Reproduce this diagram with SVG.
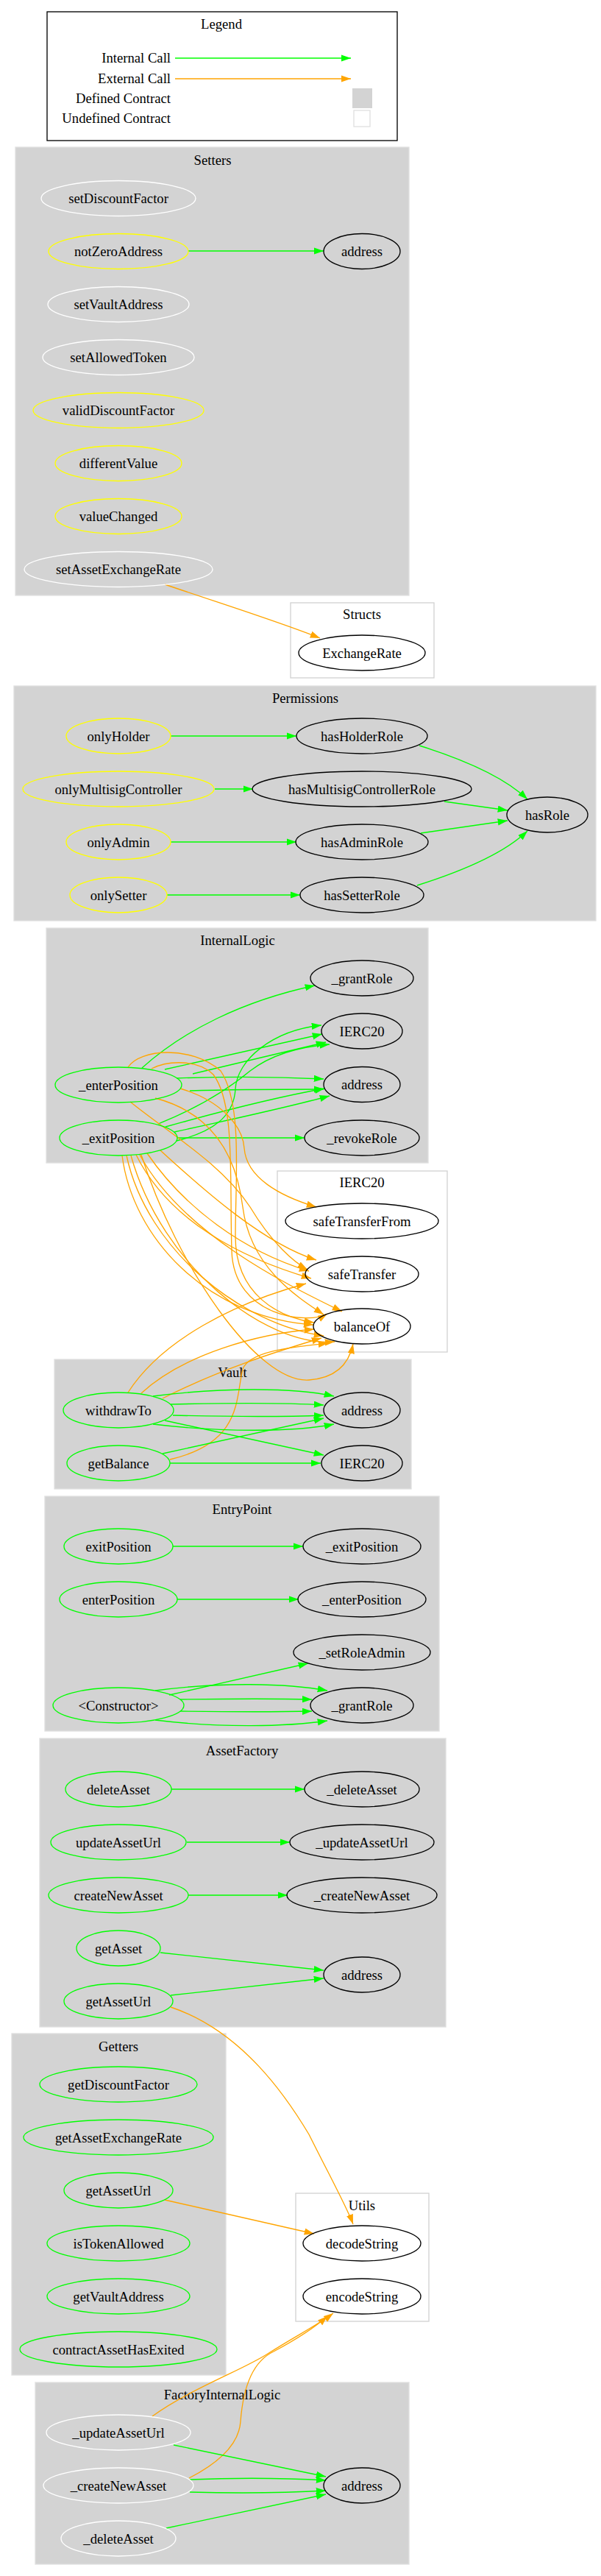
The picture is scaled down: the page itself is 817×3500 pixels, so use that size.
<svg xmlns="http://www.w3.org/2000/svg" width="817" height="3500" viewBox="0 0 817 3500">
<style>
text{font-family:"Liberation Serif","Times New Roman",serif;font-size:18.67px;fill:#000;text-anchor:middle}
.cl{fill:#d3d3d3;stroke:#e0e0e0;stroke-width:1.33}
.cw{fill:#fff;stroke:#d3d3d3;stroke-width:1.33}
ellipse{fill:none;stroke-width:1.33}
.k{stroke:#000}.w{stroke:#fff}.y{stroke:#ffff00}.g{stroke:#00ff00}
.eg{fill:none;stroke:#00ff00;stroke-width:1.33;marker-end:url(#ag)}
.eo{fill:none;stroke:#ffa500;stroke-width:1.33;marker-end:url(#ao)}
</style>
<defs>
<marker id="ag" markerUnits="userSpaceOnUse" markerWidth="14" markerHeight="10" refX="13.3" refY="4.67" orient="auto"><path d="M0,0L13.3,4.67L0,9.33z" fill="#00ff00"/></marker>
<marker id="ao" markerUnits="userSpaceOnUse" markerWidth="14" markerHeight="10" refX="13.3" refY="4.67" orient="auto"><path d="M0,0L13.3,4.67L0,9.33z" fill="#ffa500"/></marker>
</defs>
<rect width="817" height="3500" fill="#fff"/>

<g id="legend">
<rect x="64" y="16" width="476" height="175" fill="#fff" stroke="#000" stroke-width="1.33"/>
<text x="301" y="39">Legend</text>
<text x="232" y="85" style="text-anchor:end">Internal Call</text>
<text x="232" y="113" style="text-anchor:end">External Call</text>
<text x="232" y="140" style="text-anchor:end">Defined Contract</text>
<text x="232" y="167" style="text-anchor:end">Undefined Contract</text>
<path class="eg" d="M238,79L477,79"/>
<path class="eo" d="M238,107L477,107"/>
<rect x="479" y="120" width="27" height="27" fill="#d3d3d3"/>
<rect x="481" y="150" width="22" height="22" fill="#fff" stroke="#e0e0e0" stroke-width="1.33"/>
</g>

<g id="clusters">
<g id="cluster_Setters"><rect class="cl" x="21" y="200" width="535" height="609"/><text x="289" y="224">Setters</text></g>
<g id="cluster_Structs"><rect class="cw" x="395" y="819" width="195" height="102"/><text x="492" y="841">Structs</text></g>
<g id="cluster_Permissions"><rect class="cl" x="19" y="932" width="791" height="319"/><text x="415" y="955">Permissions</text></g>
<g id="cluster_InternalLogic"><rect class="cl" x="63" y="1261" width="519" height="319"/><text x="323" y="1284">InternalLogic</text></g>
<g id="cluster_IERC20"><rect class="cw" x="377" y="1591" width="231" height="246"/><text x="492" y="1613">IERC20</text></g>
<g id="cluster_Vault"><rect class="cl" x="74" y="1847" width="485" height="176"/><text x="316" y="1871">Vault</text></g>
<g id="cluster_EntryPoint"><rect class="cl" x="61" y="2033" width="536" height="319"/><text x="329" y="2057">EntryPoint</text></g>
<g id="cluster_AssetFactory"><rect class="cl" x="54" y="2362" width="552" height="392"/><text x="329" y="2385">AssetFactory</text></g>
<g id="cluster_Getters"><rect class="cl" x="16" y="2763" width="291" height="464"/><text x="161" y="2787">Getters</text></g>
<g id="cluster_Utils"><rect class="cw" x="402" y="2980" width="181" height="174"/><text x="492" y="3003">Utils</text></g>
<g id="cluster_FactoryInternalLogic"><rect class="cl" x="48" y="3237" width="508" height="247"/><text x="302" y="3260">FactoryInternalLogic</text></g>
</g>

<g id="connectors">
<path class="eg" d="M256,341L440,341"/>
<path class="eo" d="M224,794C300,820 380,845 435,867"/>
<path class="eg" d="M232,1000L403,1000"/>
<path class="eg" d="M292,1072L344,1072"/>
<path class="eg" d="M232,1144L403,1144"/>
<path class="eg" d="M227,1216L408,1216"/>
<path class="eg" d="M570,1013C640,1035 690,1060 717,1086"/>
<path class="eg" d="M604,1089L690,1101"/>
<path class="eg" d="M572,1132L690,1115"/>
<path class="eg" d="M567,1203C640,1180 690,1155 717,1129"/>

<path class="eg" d="M193,1451C250,1400 330,1360 428,1339"/>
<path class="eg" d="M224,1453L438,1405"/>
<path class="eg" d="M262,1459L443,1416"/>
<path class="eg" d="M240,1550C300,1535 318,1510 320,1480C322,1440 370,1400 437,1393"/>
<path class="eg" d="M215,1527C270,1505 310,1480 340,1455C370,1432 410,1422 448,1419"/>
<path class="eg" d="M240,1465C320,1462 380,1463 440,1466"/>
<path class="eg" d="M258,1482C320,1480 380,1480 440,1480"/>
<path class="eg" d="M225,1531C300,1510 380,1490 441,1479"/>
<path class="eg" d="M237,1538C320,1520 400,1502 448,1489"/>
<path class="eg" d="M241,1546L414,1546"/>

<path class="eo" d="M245,1479C300,1495 330,1530 332,1560C335,1600 380,1625 430,1640"/>
<path class="eo" d="M177,1497C230,1540 300,1580 340,1640C370,1690 400,1715 418,1725"/>
<path class="eo" d="M174,1450C190,1425 260,1420 300,1455C330,1500 320,1600 320,1680C320,1760 380,1790 427,1797"/>
<path class="eo" d="M206,1452C230,1440 270,1440 290,1460C320,1500 312,1600 315,1700C318,1790 420,1800 445,1785"/>
<path class="eo" d="M211,1492C280,1510 320,1560 330,1640C340,1720 400,1760 440,1786"/>
<path class="eo" d="M200,1567C250,1640 330,1700 420,1727"/>
<path class="eo" d="M185,1569C230,1660 330,1710 423,1737"/>
<path class="eo" d="M218,1563C280,1620 360,1690 430,1712"/>
<path class="eo" d="M166,1570C180,1680 280,1790 426,1800"/>
<path class="eo" d="M172,1570C200,1700 330,1800 440,1815"/>
<path class="eo" d="M178,1570C220,1720 360,1830 455,1823"/>
<path class="eo" d="M192,1569C240,1720 350,1880 420,1875C460,1872 475,1850 480,1826"/>
<path class="eo" d="M190,1569C250,1680 400,1750 465,1782"/>
<path class="eo" d="M174,1892C220,1820 320,1770 416,1744"/>
<path class="eo" d="M192,1893C250,1840 350,1812 427,1806"/>
<path class="eo" d="M221,1900C300,1860 380,1835 437,1818"/>
<path class="eo" d="M231,1983C330,1960 320,1900 330,1860C340,1835 400,1830 446,1825"/>

<path class="eg" d="M208,1897C300,1885 400,1885 454,1897"/>
<path class="eg" d="M232,1908C320,1906 390,1906 440,1909"/>
<path class="eg" d="M235,1923C320,1925 390,1925 440,1923"/>
<path class="eg" d="M208,1935C300,1946 400,1946 454,1935"/>
<path class="eg" d="M224,1930L440,1977"/>
<path class="eg" d="M221,1975L440,1927"/>
<path class="eg" d="M231,1988L436,1988"/>

<path class="eg" d="M235,2101L412,2101"/>
<path class="eg" d="M241,2173L406,2173"/>
<path class="eg" d="M230,2303L419,2260"/>
<path class="eg" d="M211,2297C300,2285 390,2287 445,2297"/>
<path class="eg" d="M245,2309C320,2308 380,2308 424,2309"/>
<path class="eg" d="M245,2325C320,2326 380,2326 424,2325"/>
<path class="eg" d="M211,2337C300,2348 390,2346 445,2338"/>

<path class="eg" d="M233,2431L414,2431"/>
<path class="eg" d="M254,2503L394,2503"/>
<path class="eg" d="M256,2575L391,2575"/>
<path class="eg" d="M218,2653L440,2677"/>
<path class="eg" d="M232,2711L440,2688"/>
<path class="eo" d="M232,2727C330,2760 390,2850 420,2900C450,2960 472,3000 480,3022"/>
<path class="eo" d="M224,2989L427,3035"/>

<path class="eo" d="M207,3283C260,3245 330,3220 364,3198C400,3175 430,3160 453,3143"/>
<path class="eo" d="M257,3367C300,3345 325,3320 327,3290C330,3250 340,3210 372,3195C400,3180 425,3165 445,3147"/>
<path class="eg" d="M236,3322L443,3365"/>
<path class="eg" d="M258,3369C330,3366 390,3367 443,3370"/>
<path class="eg" d="M258,3386C330,3388 390,3387 443,3384"/>
<path class="eg" d="M226,3435L443,3389"/>
</g>

<g id="nodes">
<g id="setDiscountFactor"><ellipse class="w" cx="161" cy="269.5" rx="105" ry="24"/><text x="161" y="276">setDiscountFactor</text></g>
<g id="notZeroAddress"><ellipse class="y" cx="161" cy="341.5" rx="95" ry="24"/><text x="161" y="348">notZeroAddress</text></g>
<g id="Setters_address"><ellipse class="k" cx="492" cy="341.5" rx="52" ry="24"/><text x="492" y="348">address</text></g>
<g id="setVaultAddress"><ellipse class="w" cx="161" cy="413.5" rx="96" ry="24"/><text x="161" y="420">setVaultAddress</text></g>
<g id="setAllowedToken"><ellipse class="w" cx="161" cy="485.5" rx="103" ry="24"/><text x="161" y="492">setAllowedToken</text></g>
<g id="validDiscountFactor"><ellipse class="y" cx="161" cy="557.5" rx="116" ry="24"/><text x="161" y="564">validDiscountFactor</text></g>
<g id="differentValue"><ellipse class="y" cx="161" cy="629.5" rx="86" ry="24"/><text x="161" y="636">differentValue</text></g>
<g id="valueChanged"><ellipse class="y" cx="161" cy="701.5" rx="86" ry="24"/><text x="161" y="708">valueChanged</text></g>
<g id="setAssetExchangeRate"><ellipse class="w" cx="161" cy="773.5" rx="128" ry="24"/><text x="161" y="780">setAssetExchangeRate</text></g>

<g id="ExchangeRate"><ellipse class="k" cx="492" cy="887" rx="86" ry="24"/><text x="492" y="893.5">ExchangeRate</text></g>

<g id="onlyHolder"><ellipse class="y" cx="161" cy="1000" rx="71" ry="24"/><text x="161" y="1006.5">onlyHolder</text></g>
<g id="onlyMultisigController"><ellipse class="y" cx="161" cy="1072" rx="130" ry="24"/><text x="161" y="1078.5">onlyMultisigController</text></g>
<g id="onlyAdmin"><ellipse class="y" cx="161" cy="1144" rx="71" ry="24"/><text x="161" y="1150.5">onlyAdmin</text></g>
<g id="onlySetter"><ellipse class="y" cx="161" cy="1216" rx="66" ry="24"/><text x="161" y="1222.5">onlySetter</text></g>
<g id="hasHolderRole"><ellipse class="k" cx="492" cy="1000" rx="89" ry="24"/><text x="492" y="1006.5">hasHolderRole</text></g>
<g id="hasMultisigControllerRole"><ellipse class="k" cx="492" cy="1072" rx="149" ry="24"/><text x="492" y="1078.5">hasMultisigControllerRole</text></g>
<g id="hasAdminRole"><ellipse class="k" cx="492" cy="1144" rx="90" ry="24"/><text x="492" y="1150.5">hasAdminRole</text></g>
<g id="hasSetterRole"><ellipse class="k" cx="492" cy="1216" rx="84" ry="24"/><text x="492" y="1222.5">hasSetterRole</text></g>
<g id="hasRole"><ellipse class="k" cx="744" cy="1107" rx="55" ry="24"/><text x="744" y="1113.5">hasRole</text></g>

<g id="IL_grantRole"><ellipse class="k" cx="492" cy="1329" rx="70" ry="24"/><text x="492" y="1335.5">_grantRole</text></g>
<g id="IL_IERC20"><ellipse class="k" cx="492" cy="1401" rx="55" ry="24"/><text x="492" y="1407.5">IERC20</text></g>
<g id="IL_address"><ellipse class="k" cx="492" cy="1473.5" rx="52" ry="24"/><text x="492" y="1480">address</text></g>
<g id="IL_revokeRole"><ellipse class="k" cx="492" cy="1546" rx="78" ry="24"/><text x="492" y="1552.5">_revokeRole</text></g>
<g id="IL_enterPosition"><ellipse class="g" cx="161" cy="1474" rx="86" ry="24"/><text x="161" y="1480.5">_enterPosition</text></g>
<g id="IL_exitPosition"><ellipse class="g" cx="161" cy="1546" rx="80" ry="24"/><text x="161" y="1552.5">_exitPosition</text></g>

<g id="safeTransferFrom"><ellipse class="k" cx="492" cy="1659" rx="104" ry="24"/><text x="492" y="1665.5">safeTransferFrom</text></g>
<g id="safeTransfer"><ellipse class="k" cx="492" cy="1731" rx="77" ry="24"/><text x="492" y="1737.5">safeTransfer</text></g>
<g id="balanceOf"><ellipse class="k" cx="492" cy="1802" rx="66" ry="24"/><text x="492" y="1808.5">balanceOf</text></g>

<g id="withdrawTo"><ellipse class="g" cx="161" cy="1916" rx="75" ry="24"/><text x="161" y="1922.5">withdrawTo</text></g>
<g id="getBalance"><ellipse class="g" cx="161" cy="1988" rx="70" ry="24"/><text x="161" y="1994.5">getBalance</text></g>
<g id="Vault_address"><ellipse class="k" cx="492" cy="1916" rx="52" ry="24"/><text x="492" y="1922.5">address</text></g>
<g id="Vault_IERC20"><ellipse class="k" cx="492" cy="1988" rx="55" ry="24"/><text x="492" y="1994.5">IERC20</text></g>

<g id="exitPosition"><ellipse class="g" cx="161" cy="2101" rx="74" ry="24"/><text x="161" y="2107.5">exitPosition</text></g>
<g id="enterPosition"><ellipse class="g" cx="161" cy="2173" rx="80" ry="24"/><text x="161" y="2179.5">enterPosition</text></g>
<g id="Constructor"><ellipse class="g" cx="161" cy="2317" rx="89" ry="24"/><text x="161" y="2323.5">&lt;Constructor&gt;</text></g>
<g id="EP_exitPosition"><ellipse class="k" cx="492" cy="2101" rx="80" ry="24"/><text x="492" y="2107.5">_exitPosition</text></g>
<g id="EP_enterPosition"><ellipse class="k" cx="492" cy="2173" rx="87" ry="24"/><text x="492" y="2179.5">_enterPosition</text></g>
<g id="EP_setRoleAdmin"><ellipse class="k" cx="492" cy="2245" rx="93" ry="24"/><text x="492" y="2251.5">_setRoleAdmin</text></g>
<g id="EP_grantRole"><ellipse class="k" cx="492" cy="2317" rx="70" ry="24"/><text x="492" y="2323.5">_grantRole</text></g>

<g id="deleteAsset"><ellipse class="g" cx="161" cy="2431" rx="72" ry="24"/><text x="161" y="2437.5">deleteAsset</text></g>
<g id="updateAssetUrl"><ellipse class="g" cx="161" cy="2503" rx="92" ry="24"/><text x="161" y="2509.5">updateAssetUrl</text></g>
<g id="createNewAsset"><ellipse class="g" cx="161" cy="2575" rx="95" ry="24"/><text x="161" y="2581.5">createNewAsset</text></g>
<g id="getAsset"><ellipse class="g" cx="161" cy="2647" rx="57" ry="24"/><text x="161" y="2653.5">getAsset</text></g>
<g id="AF_getAssetUrl"><ellipse class="g" cx="161" cy="2719" rx="74" ry="24"/><text x="161" y="2725.5">getAssetUrl</text></g>
<g id="AF_deleteAsset"><ellipse class="k" cx="492" cy="2431" rx="78" ry="24"/><text x="492" y="2437.5">_deleteAsset</text></g>
<g id="AF_updateAssetUrl"><ellipse class="k" cx="492" cy="2503" rx="98" ry="24"/><text x="492" y="2509.5">_updateAssetUrl</text></g>
<g id="AF_createNewAsset"><ellipse class="k" cx="492" cy="2575" rx="102" ry="24"/><text x="492" y="2581.5">_createNewAsset</text></g>
<g id="AF_address"><ellipse class="k" cx="492" cy="2683" rx="52" ry="24"/><text x="492" y="2689.5">address</text></g>

<g id="getDiscountFactor"><ellipse class="g" cx="161" cy="2832" rx="107" ry="24"/><text x="161" y="2838.5">getDiscountFactor</text></g>
<g id="getAssetExchangeRate"><ellipse class="g" cx="161" cy="2904" rx="129" ry="24"/><text x="161" y="2910.5">getAssetExchangeRate</text></g>
<g id="G_getAssetUrl"><ellipse class="g" cx="161" cy="2976" rx="74" ry="24"/><text x="161" y="2982.5">getAssetUrl</text></g>
<g id="isTokenAllowed"><ellipse class="g" cx="161" cy="3048" rx="97" ry="24"/><text x="161" y="3054.5">isTokenAllowed</text></g>
<g id="getVaultAddress"><ellipse class="g" cx="161" cy="3120" rx="97" ry="24"/><text x="161" y="3126.5">getVaultAddress</text></g>
<g id="contractAssetHasExited"><ellipse class="g" cx="161" cy="3192" rx="134" ry="24"/><text x="161" y="3198.5">contractAssetHasExited</text></g>

<g id="decodeString"><ellipse class="k" cx="492" cy="3048" rx="80" ry="24"/><text x="492" y="3054.5">decodeString</text></g>
<g id="encodeString"><ellipse class="k" cx="492" cy="3120" rx="80" ry="24"/><text x="492" y="3126.5">encodeString</text></g>

<g id="FIL_updateAssetUrl"><ellipse class="w" cx="161" cy="3305" rx="98" ry="24"/><text x="161" y="3311.5">_updateAssetUrl</text></g>
<g id="FIL_createNewAsset"><ellipse class="w" cx="161" cy="3377" rx="102" ry="24"/><text x="161" y="3383.5">_createNewAsset</text></g>
<g id="FIL_deleteAsset"><ellipse class="w" cx="161" cy="3449" rx="78" ry="24"/><text x="161" y="3455.5">_deleteAsset</text></g>
<g id="FIL_address"><ellipse class="k" cx="492" cy="3377" rx="52" ry="24"/><text x="492" y="3383.5">address</text></g>
</g>
</svg>
